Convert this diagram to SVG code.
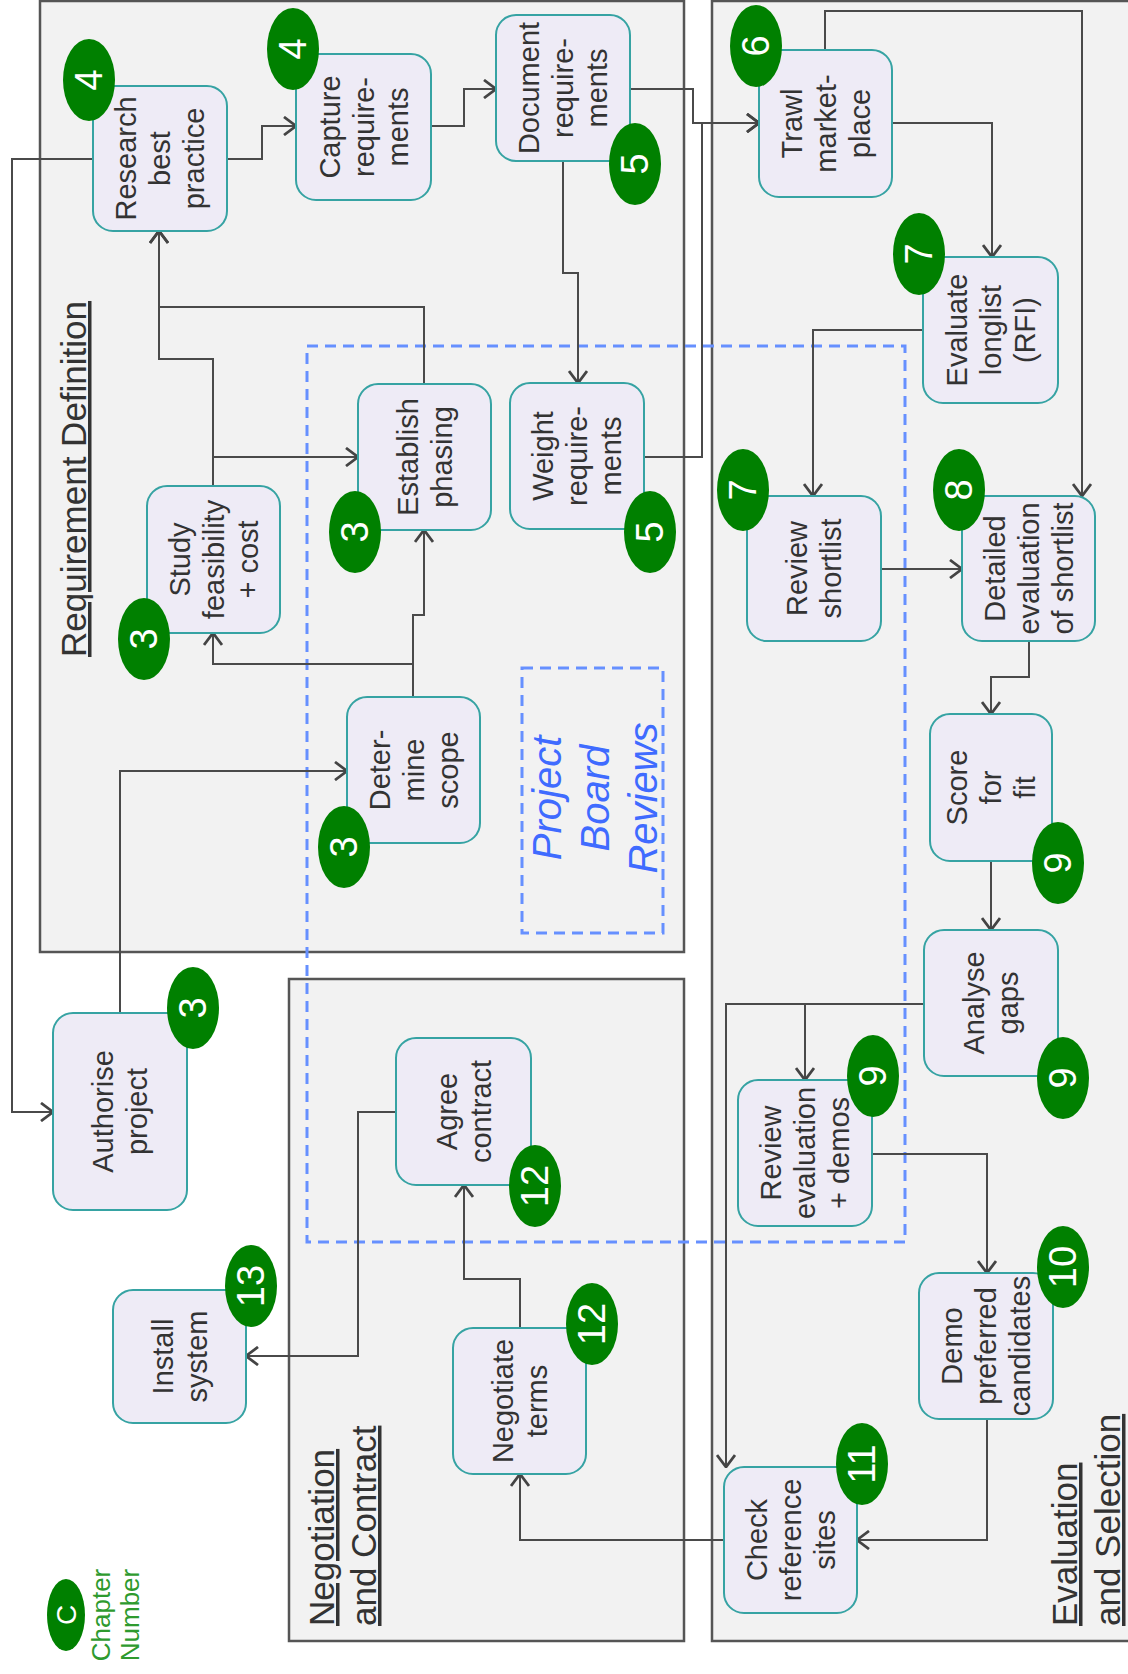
<svg xmlns="http://www.w3.org/2000/svg" width="1128" height="1674" viewBox="0 0 1128 1674">
<defs>
<style>
.grp{fill:#f2f2f2;stroke:#555;stroke-width:2.5}
.gt{font-family:'Liberation Sans',Arial,sans-serif;font-size:35px;fill:#333;text-decoration:underline}
.pbr{fill:none;stroke:#6690ff;stroke-width:3;stroke-dasharray:11 7}
.pbrt{font-family:'Liberation Sans',Arial,sans-serif;font-size:40px;font-style:italic;fill:#3f6bff;text-anchor:middle}
.nd{fill:#eeebf6;stroke:#36a3a3;stroke-width:2}
.nt{font-family:'Liberation Sans',Arial,sans-serif;font-size:29px;fill:#333;text-anchor:middle}
.bd{fill:#008000}
.bt{font-family:'Liberation Sans',Arial,sans-serif;font-size:38px;fill:#fff;text-anchor:middle}
.cn{fill:none;stroke:#4a4a4a;stroke-width:2;marker-end:url(#ah)}
.lg{font-family:'Liberation Sans',Arial,sans-serif;font-size:26px;fill:#2e9a2e;text-anchor:middle}
</style>
<marker id="ah" markerUnits="userSpaceOnUse" viewBox="0 0 14 20" refX="13" refY="10" markerWidth="14" markerHeight="20" orient="auto">
<path d="M1,1 L13,10 L1,19" fill="none" stroke="#444" stroke-width="2.8"/>
</marker>
</defs>
<rect width="1128" height="1674" fill="#fff"/>

<g id="groups">
<g id="grp-req">
<rect class="grp" x="40" y="1" width="644" height="951"/>
<text class="gt" text-anchor="middle" transform="translate(86,479) rotate(-90)">Requirement Definition</text>
</g>
<g id="grp-neg">
<rect class="grp" x="289" y="979" width="395" height="662"/>
<text class="gt" transform="translate(334,1626) rotate(-90)"><tspan x="0" y="0">Negotiation</tspan><tspan x="0" y="42">and Contract</tspan></text>
</g>
<g id="grp-eval">
<rect class="grp" x="712" y="1" width="440" height="1640"/>
<text class="gt" transform="translate(1077,1626) rotate(-90)"><tspan x="0" y="0">Evaluation</tspan><tspan x="0" y="43">and Selection</tspan></text>
</g>
</g>

<g id="project-board-reviews">
<rect class="pbr" x="307" y="346" width="598" height="896"/>
<rect class="pbr" x="522" y="668" width="141" height="265"/>
<text class="pbrt" transform="translate(609,798) rotate(-90)"><tspan x="0" y="-48">Project</tspan><tspan x="0" y="0">Board</tspan><tspan x="0" y="48">Reviews</tspan></text>
</g>

<g id="connectors">
<path class="cn" d="M227,159 H262 V126 H296"/>
<path class="cn" d="M431,126 H464 V89 H496"/>
<path class="cn" d="M630,89 H693 V123 H759"/>
<path class="cn" d="M644,457 H702 V123 H759"/>
<path class="cn" d="M563,161 V273 H578 V383"/>
<path class="cn" d="M424,384 V307 H159 V231"/>
<path class="cn" d="M213,486 V359 H159 V231"/>
<path class="cn" d="M213,486 V457 H358"/>
<path class="cn" d="M413,697 V664 H213 V633"/>
<path class="cn" d="M413,697 V615 H424 V530"/>
<path class="cn" d="M120,1013 V771 H347"/>
<path class="cn" d="M93,159 H12 V1112 H53"/>
<path class="cn" d="M396,1112 H358 V1356 H246"/>
<path class="cn" d="M520,1328 V1279 H464 V1185"/>
<path class="cn" d="M724,1540 H520 V1474"/>
<path class="cn" d="M825,50 V11 H1082 V496"/>
<path class="cn" d="M892,123 H992 V257"/>
<path class="cn" d="M923,330 H813 V496"/>
<path class="cn" d="M881,569 H962"/>
<path class="cn" d="M1029,641 V677 H991 V714"/>
<path class="cn" d="M991,861 V930"/>
<path class="cn" d="M924,1004 H805 V1080"/>
<path class="cn" d="M924,1004 H726 V1467"/>
<path class="cn" d="M872,1154 H987 V1273"/>
<path class="cn" d="M987,1419 V1540 H857"/>
</g>

<g id="n-research"><rect class="nd" x="93" y="86" width="134" height="145" rx="20"/><text class="nt" transform="translate(160,158.5) rotate(-90)"><tspan x="0" y="-24">Research</tspan><tspan x="0" y="10">best</tspan><tspan x="0" y="44">practice</tspan></text><ellipse class="bd" cx="89" cy="80" rx="26" ry="41"/><text class="bt" transform="translate(89,80) rotate(-90)" y="13">4</text></g>
<g id="n-capture"><rect class="nd" x="296" y="54" width="135" height="146" rx="20"/><text class="nt" transform="translate(363.5,127) rotate(-90)"><tspan x="0" y="-24">Capture</tspan><tspan x="0" y="10">require-</tspan><tspan x="0" y="44">ments</tspan></text><ellipse class="bd" cx="293" cy="49" rx="26" ry="41"/><text class="bt" transform="translate(293,49) rotate(-90)" y="13">4</text></g>
<g id="n-document"><rect class="nd" x="496" y="15" width="134" height="146" rx="20"/><text class="nt" transform="translate(563,88) rotate(-90)"><tspan x="0" y="-24">Document</tspan><tspan x="0" y="10">require-</tspan><tspan x="0" y="44">ments</tspan></text><ellipse class="bd" cx="635" cy="164" rx="26" ry="41"/><text class="bt" transform="translate(635,164) rotate(-90)" y="13">5</text></g>
<g id="n-study"><rect class="nd" x="147" y="486" width="133" height="147" rx="20"/><text class="nt" transform="translate(213.5,559.5) rotate(-90)"><tspan x="0" y="-24">Study</tspan><tspan x="0" y="10">feasibility</tspan><tspan x="0" y="44">+ cost</tspan></text><ellipse class="bd" cx="144" cy="639" rx="26" ry="41"/><text class="bt" transform="translate(144,639) rotate(-90)" y="13">3</text></g>
<g id="n-establish"><rect class="nd" x="358" y="384" width="133" height="146" rx="20"/><text class="nt" transform="translate(424.5,457) rotate(-90)"><tspan x="0" y="-7">Establish</tspan><tspan x="0" y="27">phasing</tspan></text><ellipse class="bd" cx="355" cy="532" rx="26" ry="41"/><text class="bt" transform="translate(355,532) rotate(-90)" y="13">3</text></g>
<g id="n-weight"><rect class="nd" x="510" y="383" width="134" height="146" rx="20"/><text class="nt" transform="translate(577,456) rotate(-90)"><tspan x="0" y="-24">Weight</tspan><tspan x="0" y="10">require-</tspan><tspan x="0" y="44">ments</tspan></text><ellipse class="bd" cx="650" cy="532" rx="26" ry="41"/><text class="bt" transform="translate(650,532) rotate(-90)" y="13">5</text></g>
<g id="n-determine"><rect class="nd" x="347" y="697" width="133" height="146" rx="20"/><text class="nt" transform="translate(413.5,770) rotate(-90)"><tspan x="0" y="-24">Deter-</tspan><tspan x="0" y="10">mine</tspan><tspan x="0" y="44">scope</tspan></text><ellipse class="bd" cx="344" cy="847" rx="26" ry="41"/><text class="bt" transform="translate(344,847) rotate(-90)" y="13">3</text></g>
<g id="n-authorise"><rect class="nd" x="53" y="1013" width="134" height="197" rx="20"/><text class="nt" transform="translate(120,1111.5) rotate(-90)"><tspan x="0" y="-7">Authorise</tspan><tspan x="0" y="27">project</tspan></text><ellipse class="bd" cx="193" cy="1008" rx="26" ry="41"/><text class="bt" transform="translate(193,1008) rotate(-90)" y="13">3</text></g>
<g id="n-agree"><rect class="nd" x="396" y="1038" width="135" height="147" rx="20"/><text class="nt" transform="translate(463.5,1111.5) rotate(-90)"><tspan x="0" y="-7">Agree</tspan><tspan x="0" y="27">contract</tspan></text><ellipse class="bd" cx="535" cy="1186" rx="26" ry="41"/><text class="bt" transform="translate(535,1186) rotate(-90)" y="13">12</text></g>
<g id="n-install"><rect class="nd" x="113" y="1290" width="133" height="133" rx="20"/><text class="nt" transform="translate(179.5,1356.5) rotate(-90)"><tspan x="0" y="-7">Install</tspan><tspan x="0" y="27">system</tspan></text><ellipse class="bd" cx="251" cy="1286" rx="26" ry="41"/><text class="bt" transform="translate(251,1286) rotate(-90)" y="13">13</text></g>
<g id="n-negotiate"><rect class="nd" x="453" y="1328" width="133" height="146" rx="20"/><text class="nt" transform="translate(519.5,1401) rotate(-90)"><tspan x="0" y="-7">Negotiate</tspan><tspan x="0" y="27">terms</tspan></text><ellipse class="bd" cx="592" cy="1324" rx="26" ry="41"/><text class="bt" transform="translate(592,1324) rotate(-90)" y="13">12</text></g>
<g id="n-trawl"><rect class="nd" x="759" y="50" width="133" height="147" rx="20"/><text class="nt" transform="translate(825.5,123.5) rotate(-90)"><tspan x="0" y="-24">Trawl</tspan><tspan x="0" y="10">market-</tspan><tspan x="0" y="44">place</tspan></text><ellipse class="bd" cx="756" cy="46" rx="26" ry="41"/><text class="bt" transform="translate(756,46) rotate(-90)" y="13">6</text></g>
<g id="n-evaluate"><rect class="nd" x="923" y="257" width="135" height="146" rx="20"/><text class="nt" transform="translate(990.5,330) rotate(-90)"><tspan x="0" y="-24">Evaluate</tspan><tspan x="0" y="10">longlist</tspan><tspan x="0" y="44">(RFI)</tspan></text><ellipse class="bd" cx="919" cy="254" rx="26" ry="41"/><text class="bt" transform="translate(919,254) rotate(-90)" y="13">7</text></g>
<g id="n-review-shortlist"><rect class="nd" x="747" y="496" width="134" height="145" rx="20"/><text class="nt" transform="translate(814,568.5) rotate(-90)"><tspan x="0" y="-7">Review</tspan><tspan x="0" y="27">shortlist</tspan></text><ellipse class="bd" cx="743" cy="490" rx="26" ry="41"/><text class="bt" transform="translate(743,490) rotate(-90)" y="13">7</text></g>
<g id="n-detailed"><rect class="nd" x="962" y="496" width="133" height="145" rx="20"/><text class="nt" transform="translate(1028.5,568.5) rotate(-90)"><tspan x="0" y="-24">Detailed</tspan><tspan x="0" y="10">evaluation</tspan><tspan x="0" y="44">of shortlist</tspan></text><ellipse class="bd" cx="959" cy="490" rx="26" ry="41"/><text class="bt" transform="translate(959,490) rotate(-90)" y="13">8</text></g>
<g id="n-score"><rect class="nd" x="930" y="714" width="122" height="147" rx="20"/><text class="nt" transform="translate(991,787.5) rotate(-90)"><tspan x="0" y="-24">Score</tspan><tspan x="0" y="10">for</tspan><tspan x="0" y="44">fit</tspan></text><ellipse class="bd" cx="1058" cy="863" rx="26" ry="41"/><text class="bt" transform="translate(1058,863) rotate(-90)" y="13">9</text></g>
<g id="n-analyse"><rect class="nd" x="924" y="930" width="134" height="146" rx="20"/><text class="nt" transform="translate(991,1003) rotate(-90)"><tspan x="0" y="-7">Analyse</tspan><tspan x="0" y="27">gaps</tspan></text><ellipse class="bd" cx="1063" cy="1078" rx="26" ry="41"/><text class="bt" transform="translate(1063,1078) rotate(-90)" y="13">9</text></g>
<g id="n-review-eval"><rect class="nd" x="738" y="1080" width="134" height="146" rx="20"/><text class="nt" transform="translate(805,1153) rotate(-90)"><tspan x="0" y="-24">Review</tspan><tspan x="0" y="10">evaluation</tspan><tspan x="0" y="44">+ demos</tspan></text><ellipse class="bd" cx="873" cy="1076" rx="26" ry="41"/><text class="bt" transform="translate(873,1076) rotate(-90)" y="13">9</text></g>
<g id="n-demo"><rect class="nd" x="919" y="1273" width="134" height="146" rx="20"/><text class="nt" transform="translate(986,1346) rotate(-90)"><tspan x="0" y="-24">Demo</tspan><tspan x="0" y="10">preferred</tspan><tspan x="0" y="44">candidates</tspan></text><ellipse class="bd" cx="1063" cy="1267" rx="26" ry="41"/><text class="bt" transform="translate(1063,1267) rotate(-90)" y="13">10</text></g>
<g id="n-check"><rect class="nd" x="724" y="1467" width="133" height="146" rx="20"/><text class="nt" transform="translate(790.5,1540) rotate(-90)"><tspan x="0" y="-24">Check</tspan><tspan x="0" y="10">reference</tspan><tspan x="0" y="44">sites</tspan></text><ellipse class="bd" cx="862" cy="1464" rx="26" ry="41"/><text class="bt" transform="translate(862,1464) rotate(-90)" y="13">11</text></g>

<g id="legend">
<ellipse class="bd" cx="66" cy="1615" rx="19" ry="36"/>
<text class="bt" style="font-size:28px" transform="translate(66,1615) rotate(-90)" y="10">C</text>
<text class="lg" transform="translate(110,1615) rotate(-90)"><tspan x="0" y="0">Chapter</tspan><tspan x="0" y="29">Number</tspan></text>
</g>
</svg>
